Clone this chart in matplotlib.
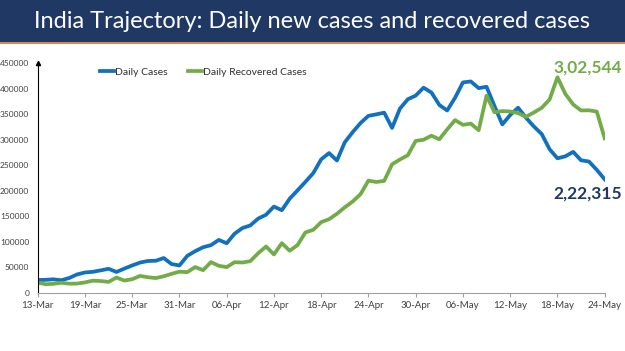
import matplotlib.pyplot as plt
import matplotlib.patches as patches
import numpy as np
import pandas as pd

plt.rcParams['font.family'] = ['Lato', 'DejaVu Sans']

dates = pd.date_range('2021-03-13', '2021-05-24', freq='D')

daily_cases = [
    24882, 25320, 26291, 24492, 28903, 35871, 39726, 40953, 43846, 46951,
    40715, 47262, 53476, 59118, 62258, 62714, 68020, 56211, 53480, 72330,
    81466, 89129, 93249, 103558, 96982, 115736, 126789, 131968, 145384, 152879,
    168912, 161736, 184372, 200739, 217353, 234692, 261500, 273810, 259170, 295041,
    314835, 332730, 346786, 349691, 352991, 323144, 360960, 379257, 386452, 401993,
    392488, 368147, 357229, 382315, 412262, 414188, 401078, 403738, 366161, 329942,
    348421, 362727, 343144, 326098, 311170, 281386, 263533, 267334, 276110, 259551,
    257299, 240842, 222315,
]

daily_recovered = [
    19957, 16637, 17455, 19557, 17741, 17958, 20191, 23653, 22956, 21180,
    29785, 23907, 26490, 32987, 30386, 28739, 32231, 37028, 41280, 40382,
    50356, 44202, 60048, 52847, 50143, 59856, 59258, 61899, 77567, 90584,
    75086, 97168, 82339, 93528, 118302, 123354, 138423, 144178, 154761, 167457,
    178841, 193279, 219838, 217113, 219272, 251827, 261162, 269507, 297540, 299988,
    307865, 300732, 320289, 338439, 329113, 331507, 318609, 386444, 353818, 356082,
    355338, 352181, 344776, 353299, 362437, 378741, 422436, 389851, 369077, 357295,
    357630, 355102, 302544,
]

title = 'India Trajectory: Daily new cases and recovered cases'
blue = '#1170bf'
green = '#72ac48'
navy = '#1f3864'

fig = plt.figure(figsize=(6.25, 3.51), dpi=100)

# title band
fig.patches.append(patches.Rectangle((0, 1 - 42 / 351), 1, 42 / 351, transform=fig.transFigure,
                                     facecolor=navy, edgecolor='none', zorder=0))
fig.patches.append(patches.Rectangle((0, 1 - 44 / 351), 1, 2 / 351, transform=fig.transFigure,
                                     facecolor='#e8804a', edgecolor='none', zorder=0))
fig.text(0.5, 1 - 21 / 351, title, color='white', fontsize=17, ha='center', va='center')

ax = fig.add_axes([0.0603, 0.166, 0.9072, 0.654])
x = np.arange(len(dates))
ax.plot(x, daily_cases, color=blue, lw=2.7, label='Daily Cases', solid_joinstyle='round')
ax.plot(x, daily_recovered, color=green, lw=2.7, label='Daily Recovered Cases', solid_joinstyle='round')

ax.set_xlim(0, len(dates) - 1)
ax.set_ylim(0, 450000)
ax.set_yticks(np.arange(0, 450001, 50000))
ax.set_xticks(x[::6])
ax.set_xticklabels([d.strftime('%d-%b') for d in dates[::6]])

for s in ['top', 'right']:
    ax.spines[s].set_visible(False)
ax.spines['left'].set_color('black')
ax.spines['left'].set_linewidth(0.8)
ax.spines['bottom'].set_color('#a0a0a0')
ax.spines['bottom'].set_linewidth(0.8)
ax.plot(0, 1.0, marker='^', color='black', markersize=3, transform=ax.transAxes, clip_on=False)

ax.tick_params(axis='y', length=0, labelsize=6, labelcolor='#404040', pad=6)
ax.tick_params(axis='x', length=3, color='#a0a0a0', labelsize=7, labelcolor='#404040', pad=3)

ax.legend(loc='center left', bbox_to_anchor=(0.103, 0.962), ncol=2, frameon=False,
          fontsize=7.5, handlelength=1.3, handletextpad=0.1, columnspacing=2.0,
          borderaxespad=0, labelcolor='#303030')

ax.annotate('3,02,544', xy=(1.0, 0), xycoords='axes fraction', xytext=(622, 351 - 68),
            textcoords='figure pixels', ha='right', va='center', fontsize=12.5,
            fontweight='bold', color=green)
ax.annotate('2,22,315', xy=(1.0, 0), xycoords='axes fraction', xytext=(622, 351 - 194),
            textcoords='figure pixels', ha='right', va='center', fontsize=12.5,
            fontweight='bold', color=navy)

fig.savefig('out.png', dpi=100)
